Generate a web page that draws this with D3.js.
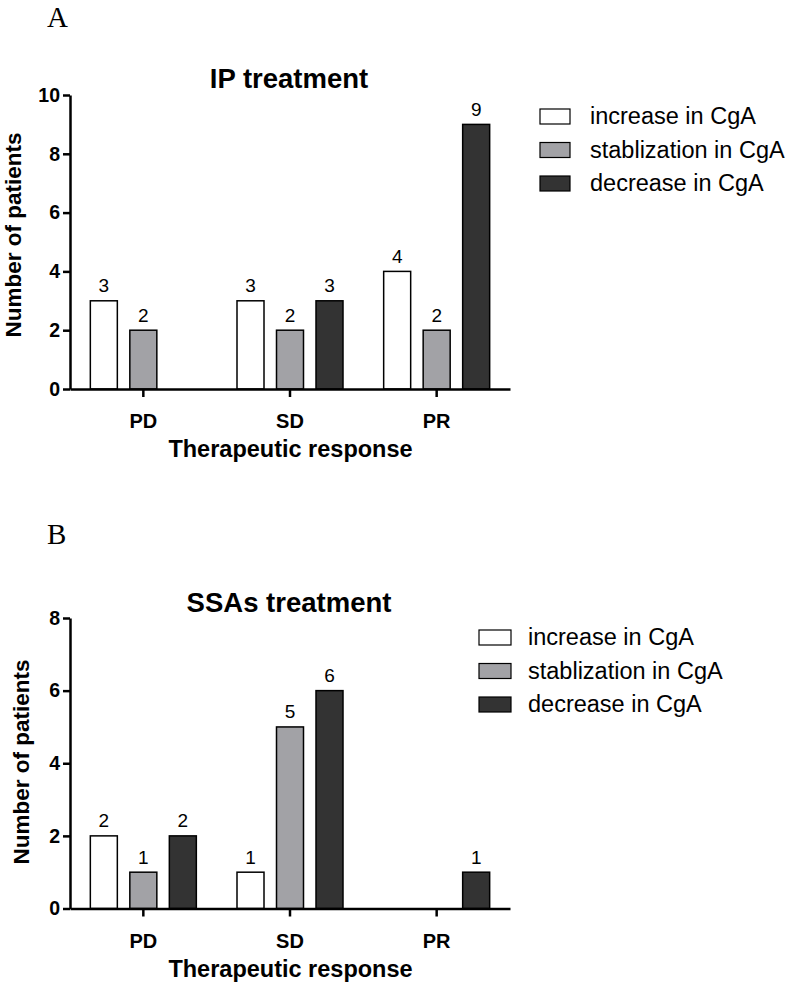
<!DOCTYPE html>
<html>
<head>
<meta charset="utf-8">
<script src="https://cdn.jsdelivr.net/npm/d3@7"></script>
<style>
  html, body { margin: 0; padding: 0; background: #fff; }
  svg { display: block; }
</style>
</head>
<body>
<svg id="chart" width="789" height="985"></svg>
<script>
const categories = ["PD", "SD", "PR"];
const seriesNames = ["increase in CgA", "stablization in CgA", "decrease in CgA"];
const seriesColors = ["#ffffff", "#a2a2a6", "#333333"];
const ipIncrease = [3, 3, 4];
const ipStabilization = [2, 2, 2];
const ipDecrease = [0, 3, 9];
const ssaIncrease = [2, 1, 0];
const ssaStabilization = [1, 5, 0];
const ssaDecrease = [2, 6, 1];
const ipTicks = [0, 2, 4, 6, 8, 10];
const ssaTicks = [0, 2, 4, 6, 8];

const svg = d3.select("#chart");
const SANS = "'Liberation Sans', Arial, sans-serif";
const SERIF = "'Liberation Serif', 'Times New Roman', serif";

const panels = [
  { letter: "A", letterY: 27, title: "IP treatment", titleY: 88,
    values: [ipIncrease, ipStabilization, ipDecrease], yMax: 10, ticks: ipTicks,
    yTop: 95, yBottom: 389, yLabelX: 21, yLabelY: 235, catY: 428, xTitleY: 457,
    legendX: 540, legendY: 109, legendTextX: 590, swW: 30 },
  { letter: "B", letterY: 544, title: "SSAs treatment", titleY: 612,
    values: [ssaIncrease, ssaStabilization, ssaDecrease], yMax: 8, ticks: ssaTicks,
    yTop: 618, yBottom: 908.5, yLabelX: 29, yLabelY: 762, catY: 948, xTitleY: 977,
    legendX: 479, legendY: 630, legendTextX: 528, swW: 32 }
];

const xLeft = 70, xRight = 510;
const barW = 27, barStep = 39.5;

panels.forEach(p => {
  const g = svg.append("g");
  const x = d3.scaleBand().domain(categories).range([xLeft, xRight]).padding(0);
  const y = d3.scaleLinear().domain([0, p.yMax]).range([p.yBottom, p.yTop]);

  g.append("text").attr("x", 47).attr("y", p.letterY)
    .attr("font-family", SERIF).attr("font-size", 29).attr("fill", "#000").text(p.letter);

  g.append("text").attr("x", 289).attr("y", p.titleY).attr("text-anchor", "middle")
    .attr("font-family", SANS).attr("font-size", 27.5).attr("font-weight", "bold").text(p.title);

  // bars
  p.values.forEach((vals, si) => {
    vals.forEach((v, ci) => {
      if (v <= 0) return;
      const cx = x(categories[ci]) + x.bandwidth() / 2 + (si - 1) * barStep;
      g.append("rect")
        .attr("x", cx - barW / 2).attr("y", y(v))
        .attr("width", barW).attr("height", y(0) - y(v))
        .attr("fill", seriesColors[si]).attr("stroke", "#000").attr("stroke-width", 1.5);
      g.append("text")
        .attr("x", cx).attr("y", y(v) - 8.5).attr("text-anchor", "middle")
        .attr("font-family", SANS).attr("font-size", 19).text(v);
    });
  });

  // y axis
  const ya = g.append("g").attr("transform", `translate(${xLeft},0)`)
    .call(d3.axisLeft(y).tickValues(p.ticks).tickSize(7).tickSizeOuter(0).tickPadding(3));
  ya.select(".domain").attr("stroke-width", 2.5);
  ya.selectAll(".tick line").attr("stroke-width", 2.5);
  ya.selectAll(".tick text").attr("font-family", SANS).attr("font-size", 19.5)
    .attr("font-weight", "bold").attr("fill", "#000");

  // x axis
  const xa = g.append("g").attr("transform", `translate(0,${p.yBottom})`)
    .call(d3.axisBottom(x).tickSize(8).tickSizeOuter(0).tickFormat(() => ""));
  xa.select(".domain").attr("stroke-width", 2.5);
  xa.selectAll(".tick line").attr("stroke-width", 2.5);

  categories.forEach(c => {
    g.append("text").attr("x", x(c) + x.bandwidth() / 2).attr("y", p.catY)
      .attr("text-anchor", "middle").attr("font-family", SANS).attr("font-size", 20)
      .attr("font-weight", "bold").text(c);
  });

  g.append("text").attr("x", 290.5).attr("y", p.xTitleY).attr("text-anchor", "middle")
    .attr("font-family", SANS).attr("font-size", 23.5).attr("font-weight", "bold")
    .text("Therapeutic response");

  g.append("text")
    .attr("transform", `translate(${p.yLabelX},${p.yLabelY}) rotate(-90)`)
    .attr("text-anchor", "middle").attr("font-family", SANS).attr("font-size", 22.5)
    .attr("font-weight", "bold").text("Number of patients");

  // legend
  seriesNames.forEach((name, si) => {
    const ly = p.legendY + si * 33.5;
    g.append("rect").attr("x", p.legendX).attr("y", ly).attr("width", p.swW).attr("height", 15)
      .attr("fill", seriesColors[si]).attr("stroke", "#000").attr("stroke-width", 1.2);
    g.append("text").attr("x", p.legendTextX).attr("y", ly + 15)
      .attr("font-family", SANS).attr("font-size", 23.5).text(name);
  });
});
</script>
</body>
</html>
